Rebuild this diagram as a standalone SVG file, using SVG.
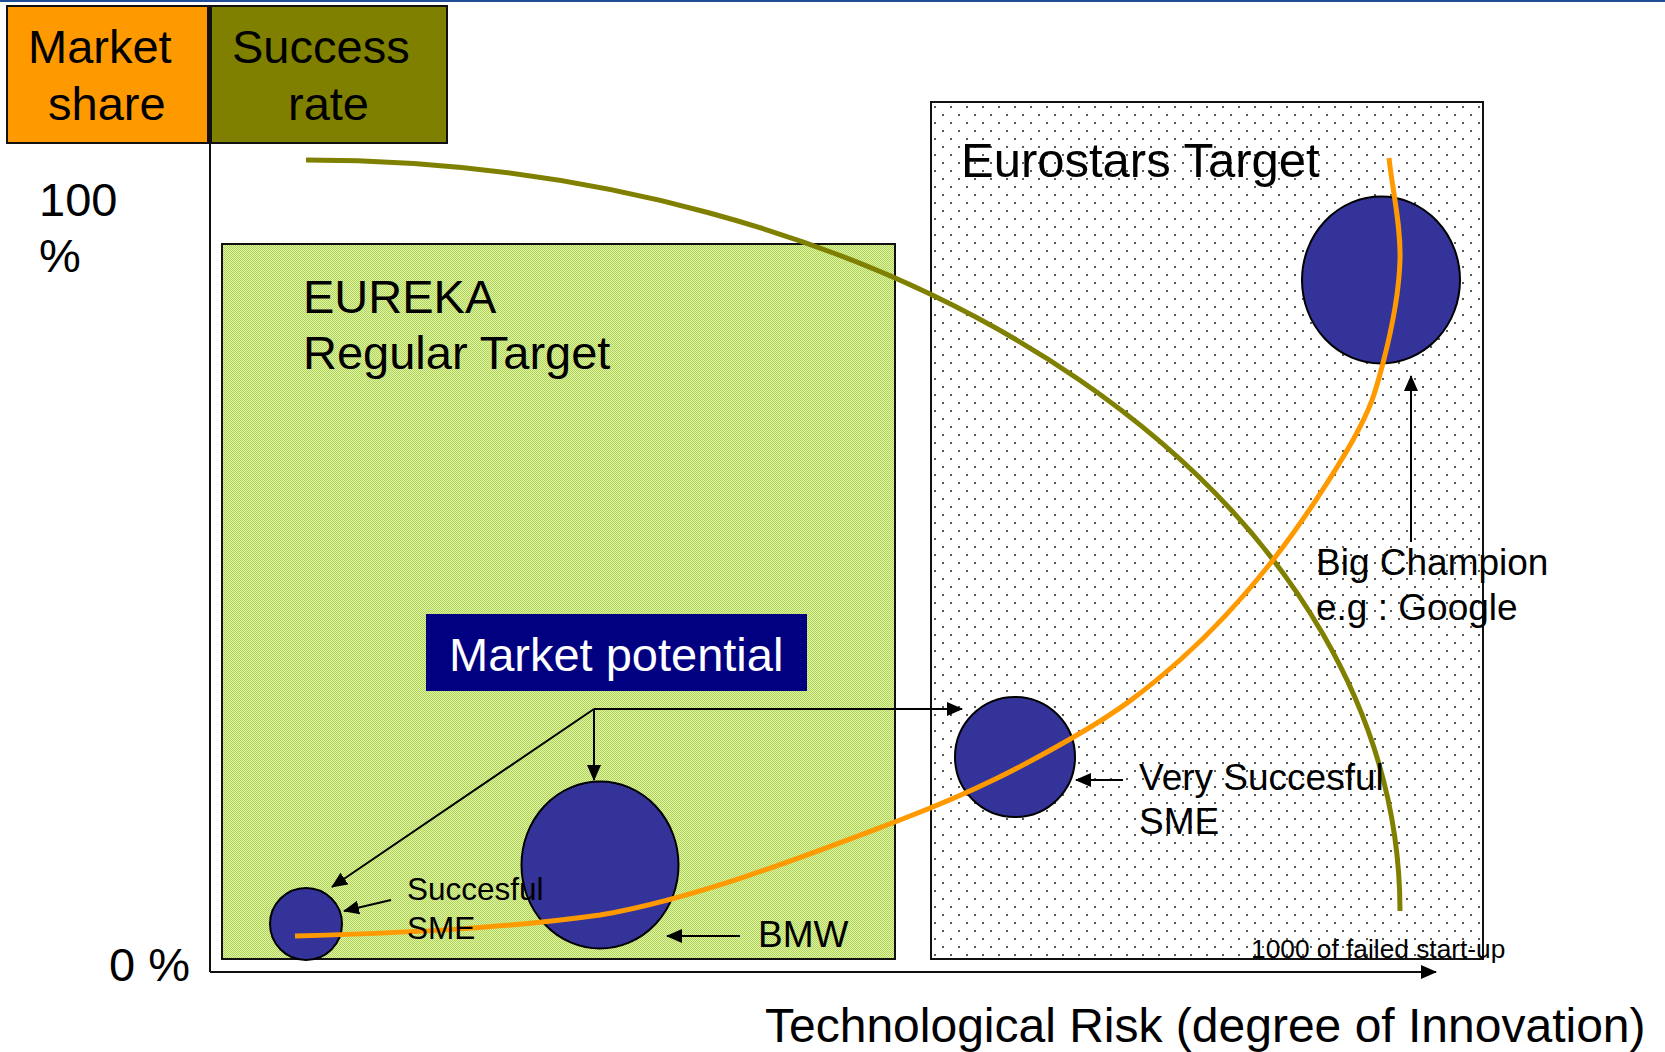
<svg xmlns="http://www.w3.org/2000/svg" width="1665" height="1052" viewBox="0 0 1665 1052">
<style>
  text { font-family: "Liberation Sans", Arial, sans-serif; fill: #000; }
  .big { font-size: 47px; }
  .mid { font-size: 37px; }
  .small { font-size: 31.5px; }
  .box { stroke: #111; stroke-width: 2; }
  .ball { fill: #333399; stroke: #000; stroke-width: 2; }
  .arrow { stroke: #000; stroke-width: 2; fill: none; marker-end: url(#ah); }
  .curve { fill: none; stroke-width: 5; stroke-linecap: butt; }
</style>
<defs>
  <marker id="ah" markerUnits="userSpaceOnUse" markerWidth="16" markerHeight="14" refX="15" refY="7" orient="auto" viewBox="0 0 16 14">
    <path d="M0,0 L16,7 L0,14 z" fill="#000"/>
  </marker>
  <pattern id="green" width="2" height="2" patternUnits="userSpaceOnUse">
    <rect width="2" height="2" fill="#E2F1B4"/>
    <rect x="0" y="0" width="1" height="1" fill="#ADD64A"/>
    <rect x="1" y="1" width="1" height="1" fill="#ADD64A"/>
  </pattern>
  <pattern id="dots" width="16" height="16" patternUnits="userSpaceOnUse" x="931" y="103">
    <rect width="16" height="16" fill="#fff"/>
    <circle cx="4" cy="4" r="1" fill="#222"/>
    <circle cx="12" cy="12" r="1" fill="#222"/>
  </pattern>
</defs>
<rect width="1665" height="1052" fill="#fff"/>
<rect x="0" y="0" width="1665" height="2" fill="#1F4E96"/>

<g id="eureka-target">
  <rect class="box" x="222" y="244" width="673" height="715" fill="url(#green)"/>
  <text class="big" x="303" y="313">EUREKA</text>
  <text class="big" x="303" y="369">Regular Target</text>
</g>
<g id="eurostars-target">
  <rect class="box" x="931" y="102" width="552" height="857" fill="url(#dots)"/>
  <text x="961" y="177" font-size="49">Eurostars Target</text>
</g>

<g id="axes">
  <line x1="210" y1="5" x2="210" y2="972" stroke="#111" stroke-width="2"/>
  <line x1="210" y1="972" x2="1436" y2="972" stroke="#111" stroke-width="2" marker-end="url(#ah)"/>
  <text class="big" x="39" y="216">100</text>
  <text class="big" x="39" y="272">%</text>
  <text class="big" x="109" y="981">0 %</text>
  <text x="765" y="1042" font-size="48">Technological Risk (degree of Innovation)</text>
  <text x="1251" y="958" font-size="26.3">1000 of failed start-up</text>
</g>

<g id="market-share">
  <rect class="box" x="7" y="6" width="201" height="137" fill="#FF9900"/>
  <text class="big" x="28" y="63">Market</text>
  <text class="big" x="48" y="120">share</text>
</g>
<g id="success-rate">
  <rect class="box" x="211" y="6" width="236" height="137" fill="#808000"/>
  <text class="big" x="232" y="63">Success</text>
  <text class="big" x="288" y="120">rate</text>
</g>

<g id="market-potential">
  <rect x="426" y="614" width="381" height="77" fill="#000080"/>
  <text class="big" x="449" y="671" style="fill:#fff">Market potential</text>
</g>

<g id="successful-sme">
  <ellipse class="ball" cx="306" cy="924" rx="36" ry="36"/>
</g>
<g id="bmw">
  <ellipse class="ball" cx="600" cy="865" rx="78.5" ry="83.5"/>
</g>
<g id="very-successful-sme">
  <ellipse class="ball" cx="1015" cy="757" rx="60" ry="60"/>
</g>
<g id="big-champion">
  <ellipse class="ball" cx="1381" cy="280" rx="79" ry="83.5"/>
</g>

<g id="curves">
  <path class="curve" stroke="#808000" d="M306,160 A1094,751 0 0 1 1400,911"/>
  <path class="curve" stroke="#FF9900" d="M295,936 C400,933 500,929 600,915 C700.8,897.7 821.3,849.8 900,820 C978.7,790.2 1025.3,764.7 1072,738 C1118.7,711.3 1146.5,689.7 1180,660 C1213.5,630.3 1244.2,596.7 1273,560 C1301.8,523.3 1334.7,472.8 1353,440 C1371.3,407.2 1375.2,393 1383,363 C1390.8,333 1399,294.2 1400,260 C1401,225.8 1392.7,192 1389,158"/>
</g>

<g id="connectors">
  <line class="arrow" x1="594" y1="709" x2="962" y2="709"/>
  <line class="arrow" x1="594" y1="709" x2="594" y2="780"/>
  <line class="arrow" x1="594" y1="709" x2="332" y2="887"/>
  <line class="arrow" x1="391" y1="900" x2="344" y2="911"/>
  <line class="arrow" x1="740" y1="936" x2="667" y2="936"/>
  <line class="arrow" x1="1123" y1="780" x2="1076" y2="780"/>
  <line class="arrow" x1="1411" y1="542" x2="1411" y2="376"/>
</g>

<g id="labels">
  <text class="small" x="407" y="900">Succesful</text>
  <text class="small" x="407" y="939">SME</text>
  <text class="mid" x="758" y="947">BMW</text>
  <text class="mid" x="1139" y="790">Very Succesful</text>
  <text class="mid" x="1139" y="834">SME</text>
  <text class="mid" x="1316" y="575">Big Champion</text>
  <text class="mid" x="1316" y="620">e.g : Google</text>
</g>
</svg>
